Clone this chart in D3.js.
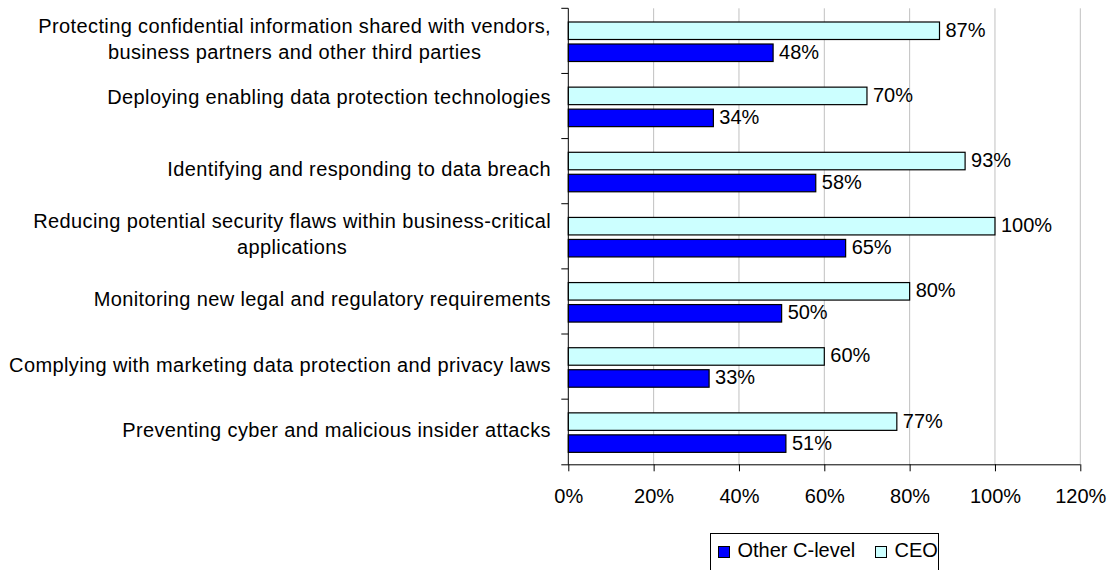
<!DOCTYPE html>
<html>
<head>
<meta charset="utf-8">
<script src="https://cdn.jsdelivr.net/npm/d3@7"></script>
<style>
  html, body { margin: 0; padding: 0; background: #fff; }
  svg { display: block; font-family: "Liberation Sans", Arial, sans-serif; }
</style>
</head>
<body>
<svg id="chart" width="1111" height="570"></svg>
<script>
// Category labels, top to bottom ("\n" marks a line break)
const categories = [
  "Protecting confidential information shared with vendors,\nbusiness partners and other third parties",
  "Deploying enabling data protection technologies",
  "Identifying and responding to data breach",
  "Reducing potential security flaws within business-critical\napplications",
  "Monitoring new legal and regulatory requirements",
  "Complying with marketing data protection and privacy laws",
  "Preventing cyber and malicious insider attacks"
];
const seriesNames = ["Other C-level", "CEO"];
const ceoValues = [87, 70, 93, 100, 80, 60, 77];
const otherValues = [48, 34, 58, 65, 50, 33, 51];
const xTicks = [0, 20, 40, 60, 80, 100, 120];

const colors = { "Other C-level": "#0000ff", "CEO": "#ccffff" };

const svg = d3.select("#chart");
const plotLeft = 568.3, plotRight = 1080.3, plotTop = 8.3, plotBottom = 464.3;
const fontSize = 20;

const x = d3.scaleLinear().domain([0, 120]).range([plotLeft, plotRight]);
const y = d3.scaleBand().domain(d3.range(categories.length)).range([plotTop, plotBottom]);
const bh = y.bandwidth();
const barH = 17.5;

// Gridlines
svg.append("g").selectAll("line").data(xTicks.slice(1)).join("line")
  .attr("x1", d => x(d)).attr("x2", d => x(d))
  .attr("y1", plotTop).attr("y2", plotBottom)
  .attr("stroke", "#c0c0c0").attr("stroke-width", 1);

// Bars
const rows = categories.map((c, i) => ({ i, ceo: ceoValues[i], other: otherValues[i] }));
const barG = svg.append("g");
rows.forEach(r => {
  const y0 = y(r.i);
  const specs = [
    { v: r.ceo, yy: y0 + 13.7, fill: colors["CEO"] },
    { v: r.other, yy: y0 + 35.7, fill: colors["Other C-level"] }
  ];
  specs.forEach(s => {
    barG.append("rect")
      .attr("x", x(0)).attr("y", s.yy)
      .attr("width", x(s.v) - x(0)).attr("height", barH)
      .attr("fill", s.fill).attr("stroke", "#000").attr("stroke-width", 1.2);
    barG.append("text")
      .attr("x", x(s.v) + 6).attr("y", s.yy + barH / 2 + 6)
      .attr("font-size", fontSize).attr("fill", "#000")
      .text(s.v + "%");
  });
});

// Axes
const xAxis = d3.axisBottom(x).tickValues(xTicks).tickFormat(d => d + "%")
  .tickSize(7).tickPadding(0);
const gx = svg.append("g").attr("transform", `translate(0,${plotBottom})`).call(xAxis);
gx.select(".domain").attr("d", `M${plotLeft - 7},0.5H${plotRight}`).attr("stroke", "#000");
gx.selectAll(".tick line").attr("stroke", "#000");
gx.selectAll(".tick text").attr("font-size", fontSize).attr("fill", "#000")
  .attr("font-family", "Liberation Sans, Arial, sans-serif")
  .attr("y", 39).attr("dy", 0);

// Left axis line with category separator ticks
const gy = svg.append("g");
gy.append("line").attr("x1", plotLeft).attr("x2", plotLeft).attr("y1", plotTop).attr("y2", plotBottom)
  .attr("stroke", "#000");
gy.selectAll("line.sep").data(d3.range(categories.length)).join("line")
  .attr("class", "sep")
  .attr("x1", plotLeft - 7).attr("x2", plotLeft)
  .attr("y1", d => y(d)).attr("y2", d => y(d))
  .attr("stroke", "#000");

// Category labels: block right-aligned, lines centred within the block
const labelRight = 551;
const lineGap = 26;
const labelNudge = [0, -7, 0, 0, 0, 0, 0];
categories.forEach((c, i) => {
  const lines = c.split("\n");
  const cy = y(i) + bh / 2 + 5 + labelNudge[i];
  const g = svg.append("g");
  const texts = lines.map((ln, k) => g.append("text")
    .attr("font-size", fontSize).attr("fill", "#000")
    .attr("letter-spacing", 0.38)
    .attr("text-anchor", "middle")
    .attr("y", cy + (k - (lines.length - 1) / 2) * lineGap)
    .text(ln));
  const w = d3.max(texts, t => t.node().getComputedTextLength());
  texts.forEach(t => t.attr("x", labelRight - w / 2));
});

// Legend
const lg = svg.append("g");
lg.append("rect").attr("x", 710.5).attr("y", 533.5).attr("width", 228).attr("height", 60)
  .attr("fill", "#fff").attr("stroke", "#000");
const legendItems = [
  { name: seriesNames[0], sx: 718.5 },
  { name: seriesNames[1], sx: 875.5 }
];
legendItems.forEach(it => {
  lg.append("rect").attr("x", it.sx).attr("y", 546.5).attr("width", 11).attr("height", 11)
    .attr("fill", colors[it.name]).attr("stroke", "#000");
  lg.append("text").attr("x", it.sx + 19).attr("y", 556.7)
    .attr("font-size", fontSize).attr("fill", "#000").text(it.name);
});
</script>
</body>
</html>
